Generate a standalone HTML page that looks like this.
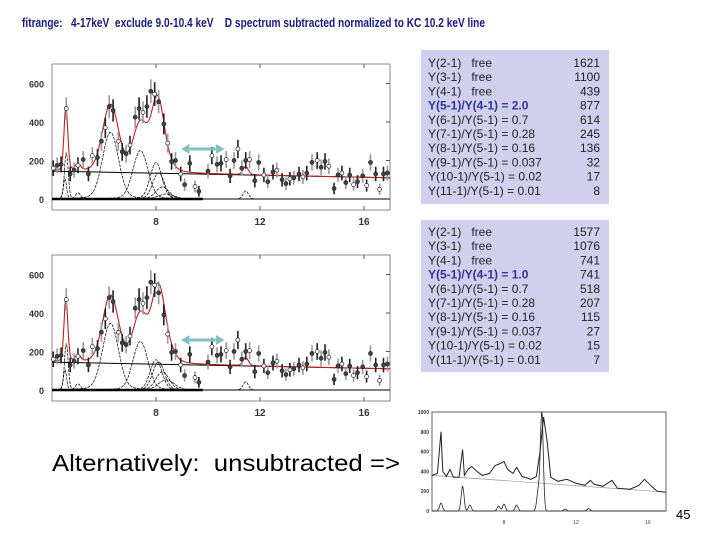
<!DOCTYPE html>
<html><head><meta charset="utf-8"><style>
body{margin:0;background:#fff;width:720px;height:540px;overflow:hidden}
svg{display:block}
.pre{white-space:pre}
</style></head><body>
<svg id="s" width="720" height="540" xmlns="http://www.w3.org/2000/svg" font-family="Liberation Sans, sans-serif">
<text x="22" y="27" font-size="13" font-weight="bold" fill="#1a1a80" class="pre" textLength="463" lengthAdjust="spacingAndGlyphs">fitrange:   4-17keV  exclude 9.0-10.4 keV    D spectrum subtracted normalized to KC 10.2 keV line</text>
<g id="top"></g>
<g id="bot"></g>
<g id="ins"></g>
<rect x="421" y="50" width="188" height="154" fill="#d0d0ee"/>
<rect x="421" y="220" width="188" height="152" fill="#d0d0ee"/>
<g id="tx1" font-size="12"></g>
<g id="tx2" font-size="12"></g>
<text x="52" y="471" font-size="23" fill="#000" class="pre" textLength="348" lengthAdjust="spacingAndGlyphs">Alternatively:  unsubtracted =&gt;</text>
<text x="676" y="519" font-size="13" fill="#000">45</text>
</svg>
<script>
const ptsX=[4.05,4.2,4.35,4.55,4.7,4.85,5.0,5.2,5.4,5.55,5.75,5.9,6.05,6.2,6.35,6.55,6.7,6.85,7.0,7.2,7.35,7.5,7.65,7.8,7.95,8.1,8.3,8.45,8.6,8.75,8.95,9.1,9.3,9.5,9.65,10.0,10.15,10.35,10.5,10.7,10.85,11.0,11.15,11.3,11.45,11.6,11.8,11.95,12.15,12.3,12.5,12.65,12.85,13.0,13.15,13.3,13.5,13.65,13.8,14.0,14.2,14.35,14.5,14.65,14.85,15.0,15.15,15.3,15.45,15.6,15.75,15.95,16.1,16.25,16.45,16.6,16.75,16.9];
const ptsY=[160,175,180,470,130,150,175,205,130,225,215,300,370,480,460,300,245,235,280,425,470,450,480,560,545,505,390,290,195,200,130,75,185,65,40,145,225,180,185,205,120,200,260,160,200,205,95,190,125,90,140,150,100,80,105,110,130,115,135,190,200,165,195,170,55,125,135,85,125,75,90,120,70,190,130,50,130,135];
const bgY=[145,110];
const peakC=[4.5,4.55,5.0,6.25,7.4,8.0,8.1,8.25,8.4,11.45];
const peakA1=[100,230,30,330,240,180,130,60,25,40];
const peakA2=[100,230,30,330,240,150,140,90,50,40];
const peakW=[0.06,0.07,0.1,0.3,0.28,0.22,0.22,0.25,0.3,0.1];
const yTicks=[0,200,400,600];
const xTicks=[8,12,16];
const insX=[4,4.3,4.5,4.6,4.8,5.0,5.2,5.5,5.7,5.8,6.0,6.2,6.5,6.8,7.2,7.5,7.8,8.0,8.2,8.5,8.7,9.0,9.5,9.8,10.0,10.2,10.4,10.6,11,11.5,12,12.5,12.8,13,13.5,14,14.3,15,15.5,15.8,16.2,16.5,17];
const insY=[360,380,800,400,350,420,340,340,620,360,420,450,400,360,380,460,480,500,420,380,440,350,320,350,600,950,700,340,300,320,280,260,310,270,250,310,230,220,260,320,250,200,190];
const insPeakC=[4.5,5.7,6.1,7.7,8.0,8.7,9.9,10.1,11.4,12.7];
const insPeakA=[80,250,60,50,70,60,200,1000,20,25];
const insBg=[360,190];
const insTicks=[0,200,400,600,800,1000];
const NS='http://www.w3.org/2000/svg';
function mk(p,t,a){const e=document.createElementNS(NS,t);for(const k in a)e.setAttribute(k,a[k]);p.appendChild(e);return e;}
function gauss(x,c,a,w){return a*Math.exp(-0.5*((x-c)/w)**2)+a*0.05/(1+((x-c)/(w*3))**2);}
function plot(g,top,amps){
  const L=52,R=390,X=k=>L+(k-4)*26;const y0=top+135,Y=v=>y0-v*0.1925;
  const fb=mk(g,'rect',{x:L,y:top,width:R-L,height:146,fill:'none',stroke:'#888','stroke-width':1});
  
  yTicks.forEach(v=>{const t=mk(g,'text',{x:L-8,y:Y(v)+4,'font-size':9,'font-weight':'bold','text-anchor':'end',fill:'#333'});t.textContent=v;
    
    mk(g,'line',{x1:R,x2:R-4,y1:Y(v),y2:Y(v),stroke:'#555'});});
  xTicks.forEach(v=>{const t=mk(g,'text',{x:X(v),y:top+161,'font-size':10,'font-weight':'bold','text-anchor':'middle',fill:'#333'});t.textContent=v;
    
    mk(g,'line',{x1:X(v),x2:X(v),y1:top,y2:top+4,stroke:'#555'});mk(g,'line',{x1:X(v),x2:X(v),y1:top+146,y2:top+142,stroke:'#555'});});
  mk(g,'line',{x1:L,x2:R,y1:y0,y2:y0,stroke:'#000','stroke-width':1});
  mk(g,'line',{x1:L,x2:X(9.8),y1:y0,y2:y0,stroke:'#000','stroke-width':2.5});
  const bg=k=>bgY[0]+(bgY[1]-bgY[0])*(k-4)/13;
  const bl=mk(g,'line',{x1:L,x2:R,y1:Y(bg(4)),y2:Y(bg(17)),stroke:'#000','stroke-width':1});
  
  peakC.forEach((c,i)=>{let d='';for(let k=c-1.5;k<=c+1.5;k+=0.03){if(k<4)continue;d+=(d?'L':'M')+X(k).toFixed(1)+','+Y(gauss(k,c,amps[i],peakW[i])).toFixed(1);}
    const p=mk(g,'path',{d,fill:'none',stroke:'#000','stroke-width':0.7,'stroke-dasharray':'3,1'});
    });
  let d='';for(let k=4;k<=17;k+=0.02){let s=bg(k);peakC.forEach((c,i)=>s+=gauss(k,c,amps[i],peakW[i]));d+=(d?'L':'M')+X(k).toFixed(1)+','+Y(s).toFixed(1);}
  const f=mk(g,'path',{d,fill:'none',stroke:'#c02020','stroke-width':1.1});
  
  ptsX.forEach((k,i)=>{const v=ptsY[i],e=Math.sqrt(v)*2+15;
    const l=mk(g,'line',{x1:X(k),x2:X(k),y1:Y(v+e),y2:Y(Math.max(v-e,-40)),stroke:i%2?'#999':'#222','stroke-width':1.6});
    
    const c=mk(g,'circle',{cx:X(k),cy:Y(v),r:2,fill:i%3?'#444':'#fff',stroke:'#222','stroke-width':0.7});
    });
  const a=mk(g,'g',{stroke:'#80c0c0','stroke-width':3,fill:'#80c0c0'});
  
  const ay=top+85;mk(a,'line',{x1:X(9.3),x2:X(10.3),y1:ay,y2:ay});
  mk(a,'path',{d:`M${X(9.0)},${ay}l7,-4v8z`,'stroke-width':1});mk(a,'path',{d:`M${X(10.6)},${ay}l-7,-4v8z`,'stroke-width':1});
}
plot(document.getElementById('top'),64,peakA1);
plot(document.getElementById('bot'),255,peakA2);
(function(){const g=document.getElementById('ins');const L=432,R=666,X=k=>L+(k-4)*18,y0=511,Y=v=>y0-v*0.099;
  const fr=mk(g,'rect',{x:L,y:412,width:R-L,height:99,fill:'none',stroke:'#666'});
  
  insTicks.forEach(v=>{const t=mk(g,'text',{x:L-3,y:Y(v)+2,'font-size':5,'font-weight':'bold','text-anchor':'end',fill:'#333'});t.textContent=v;
    });
  xTicks.forEach(v=>{const t=mk(g,'text',{x:X(v),y:524,'font-size':5,'text-anchor':'middle',fill:'#333'});t.textContent=v;
    });
  const bg=k=>insBg[0]+(insBg[1]-insBg[0])*(k-4)/13;
  mk(g,'line',{x1:L,x2:R,y1:Y(bg(4)),y2:Y(bg(17)),stroke:'#999','stroke-width':0.7});
  let d='';insX.forEach((k,i)=>d+=(i?'L':'M')+X(k).toFixed(1)+','+Y(insY[i]).toFixed(1));
  const sp=mk(g,'path',{d,fill:'none',stroke:'#222','stroke-width':1});
  
  let d2='';for(let k=4;k<=17;k+=0.03){let s=0;insPeakC.forEach((c,i)=>s+=insPeakA[i]*Math.exp(-0.5*((k-c)/0.08)**2));d2+=(d2?'L':'M')+X(k).toFixed(1)+','+Y(s).toFixed(1);}
  const cp=mk(g,'path',{d:d2,fill:'none',stroke:'#222','stroke-width':0.8});
  
})();
const lab=['Y(2-1)   free','Y(3-1)   free','Y(4-1)   free','Y(5-1)/Y(4-1) = ','Y(6-1)/Y(5-1) = 0.7','Y(7-1)/Y(5-1) = 0.28','Y(8-1)/Y(5-1) = 0.16','Y(9-1)/Y(5-1) = 0.037','Y(10-1)/Y(5-1) = 0.02','Y(11-1)/Y(5-1) = 0.01'];
const ratio=['2.0','1.0'];
const yields1=[1621,1100,439,877,614,245,136,32,17,8];
const yields2=[1577,1076,741,741,518,207,115,27,15,7];
function box(id,y,ys,r){const g=document.getElementById(id);
  lab.forEach((s,i)=>{const b=i==3;const t=mk(g,'text',{x:428,y:y+i*14.2,fill:b?'#333399':'#222','font-weight':b?'bold':'normal','class':'pre'});
    t.textContent=b?s+r:s;
    const n=mk(g,'text',{x:600,y:y+i*14.2,fill:'#222','text-anchor':'end'});n.textContent=ys[i];
    });}
box('tx1',67,yields1,ratio[0]);box('tx2',236,yields2,ratio[1]);
</script>
</body></html>
